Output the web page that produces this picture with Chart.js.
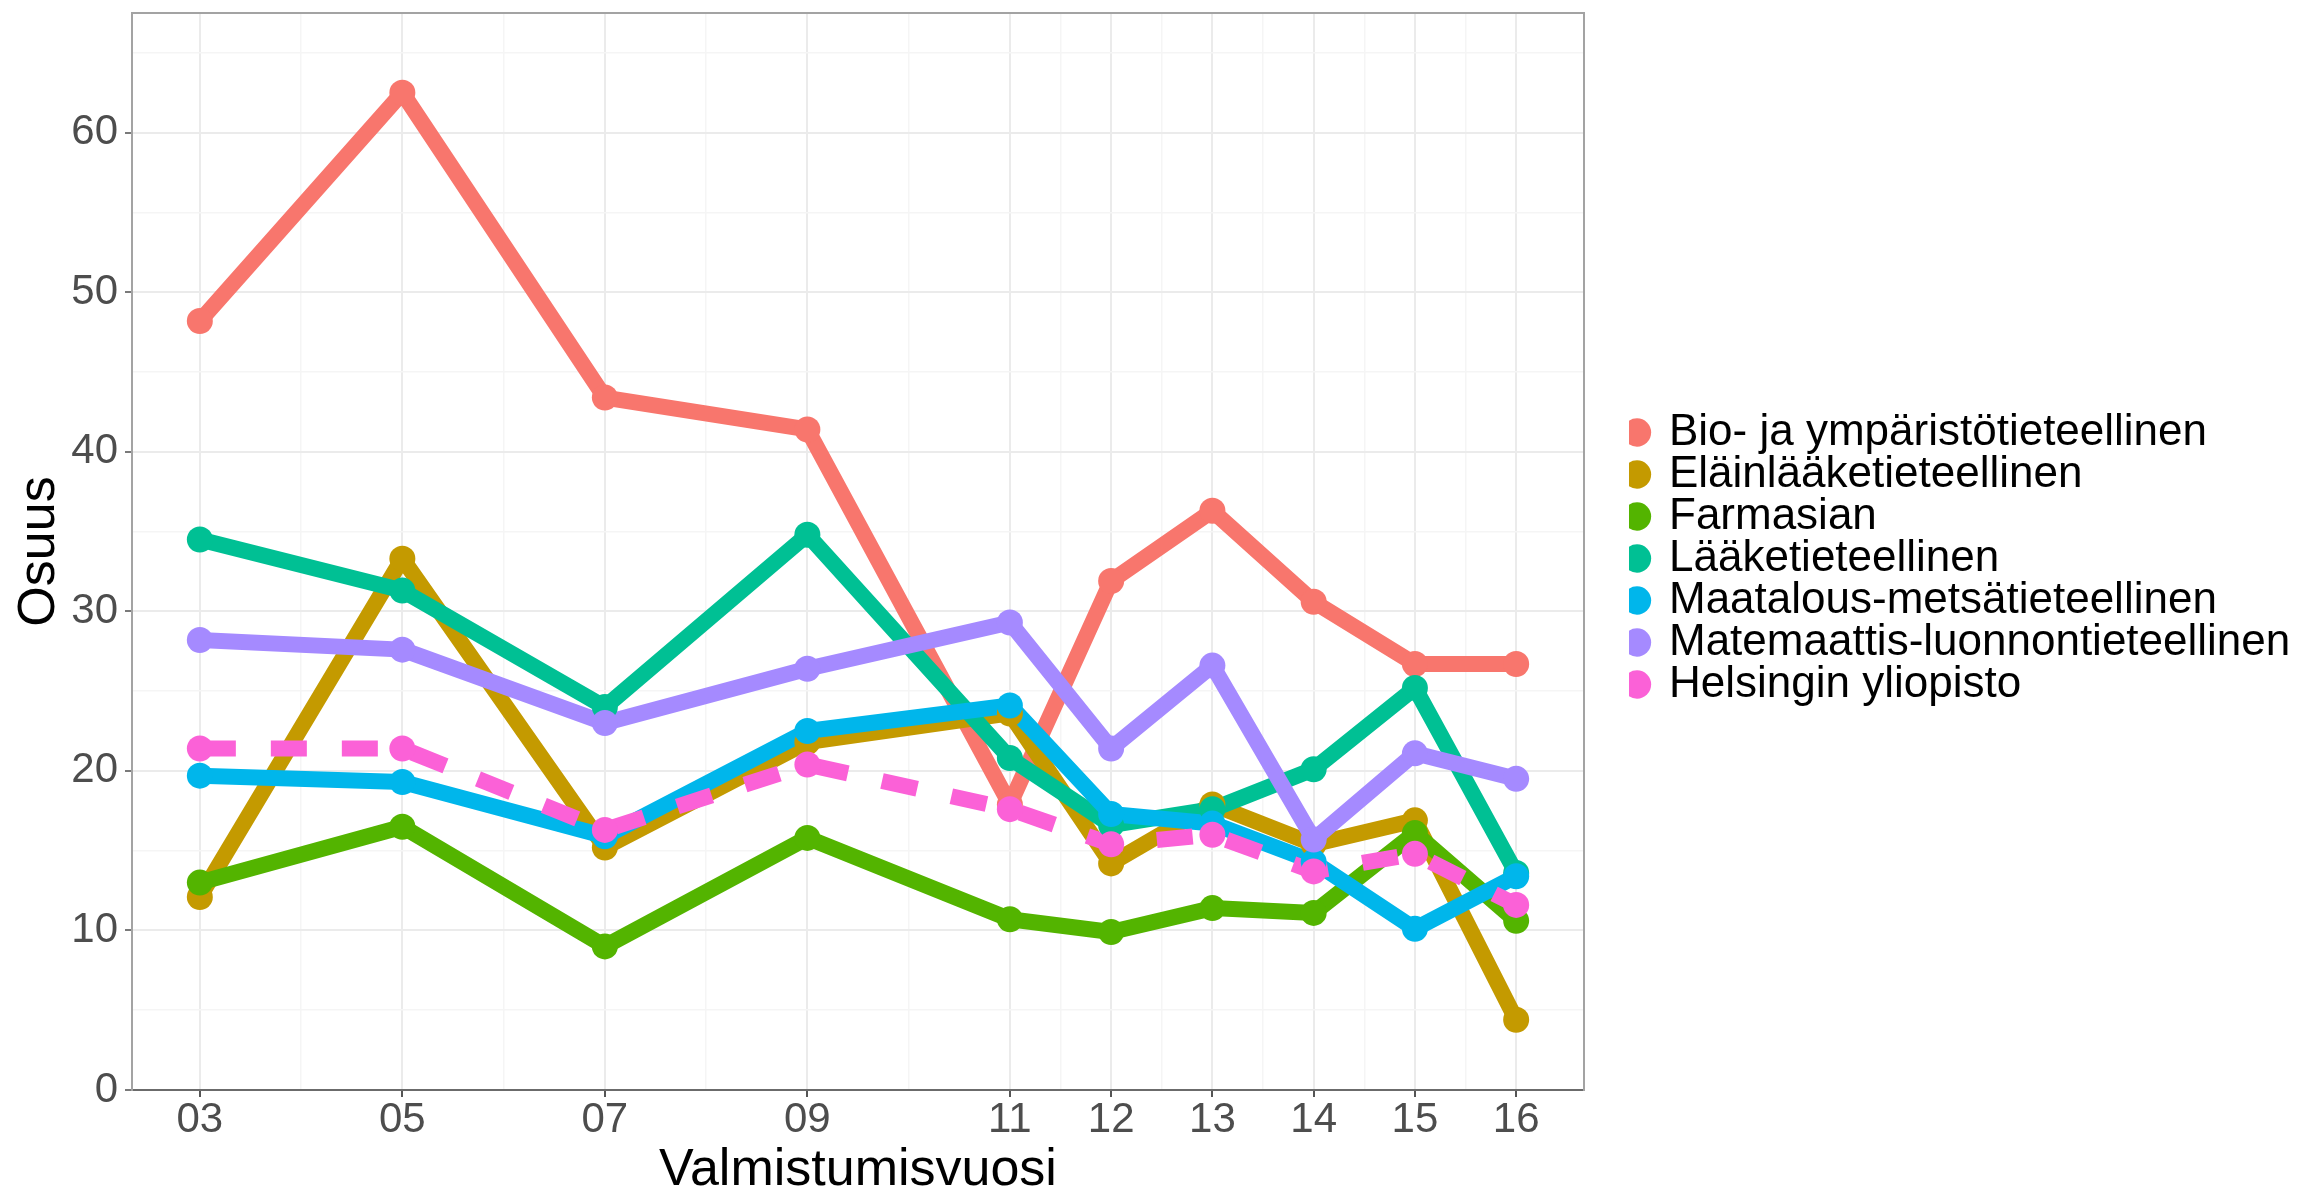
<!DOCTYPE html>
<html>
<head>
<meta charset="utf-8">
<script src="https://cdn.jsdelivr.net/npm/chart.js@4.4.1/dist/chart.umd.min.js"></script>
<style>
  html, body { margin: 0; padding: 0; background: #ffffff; }
  #wrap { width: 2306px; height: 1191px; }
</style>
</head>
<body>
<div id="wrap"><canvas id="c" width="2306" height="1191"></canvas></div>
<script>
// ---- data ----
const categories = ['03', '05', '07', '09', '11', '12', '13', '14', '15', '16'];
const years = [3, 5, 7, 9, 11, 12, 13, 14, 15, 16];
const xMinorTicks = [4, 6, 8, 10, 11.5, 12.5, 13.5, 14.5, 15.5];
const yMajorTicks = [0, 10, 20, 30, 40, 50, 60];
const yMinorTicks = [5, 15, 25, 35, 45, 55, 65];

const seriesNames = [
  'Bio- ja ympäristötieteellinen',
  'Eläinlääketieteellinen',
  'Farmasian',
  'Lääketieteellinen',
  'Maatalous-metsätieteellinen',
  'Matemaattis-luonnontieteellinen',
  'Helsingin yliopisto'
];
const bio       = [48.2, 62.5, 43.4, 41.4, 17.9, 31.9, 36.3, 30.6, 26.7, 26.7];
const elain     = [12.1, 33.3, 15.2, 21.8, 23.6, 14.2, 17.9, 15.4, 16.9, 4.4];
const farmasia  = [13.0, 16.5, 9.0, 15.8, 10.7, 9.9, 11.4, 11.1, 16.1, 10.6];
const laake     = [34.5, 31.3, 24.0, 34.8, 20.8, 16.6, 17.6, 20.1, 25.2, 13.6];
const maatalous = [19.7, 19.3, 15.9, 22.5, 24.1, 17.3, 16.7, 14.3, 10.1, 13.4];
const matem     = [28.2, 27.6, 23.0, 26.4, 29.3, 21.4, 26.6, 15.7, 21.1, 19.5];
const helsinki  = [21.4, 21.4, 16.3, 20.4, 17.6, 15.4, 16.0, 13.7, 14.8, 11.6];

const seriesValues = [bio, elain, farmasia, laake, maatalous, matem, helsinki];
const seriesColors = ['#F8766D', '#C49A00', '#53B400', '#00C094', '#00B6EB', '#A58AFF', '#FB61D7'];
const dashedSeries = [false, false, false, false, false, false, true];

// ---- styling ----
const FONT = "'Liberation Sans', Arial, Helvetica, sans-serif";
const GRID_MAJOR = '#EBEBEB';
const GRID_MINOR = '#F5F5F5';
const PANEL_BORDER = '#A3A3A3';
const isMajorX = v => years.indexOf(v) >= 0;
const isMajorY = v => yMajorTicks.indexOf(v) >= 0;

const datasets = [];
// lines first (drawn underneath)
seriesValues.forEach((vals, i) => {
  datasets.push({
    label: seriesNames[i],
    data: years.map((x, j) => ({ x: x, y: vals[j] })),
    borderColor: seriesColors[i],
    backgroundColor: seriesColors[i],
    borderWidth: 16,
    borderDash: dashedSeries[i] ? [36, 35] : [],
    borderCapStyle: 'butt',
    borderJoinStyle: 'round',
    pointRadius: 0,
    pointHoverRadius: 0,
    tension: 0,
    fill: false,
    order: 100 - i,
    inLegend: false
  });
});
// points on top of all lines
seriesValues.forEach((vals, i) => {
  datasets.push({
    label: seriesNames[i],
    data: years.map((x, j) => ({ x: x, y: vals[j] })),
    showLine: false,
    borderColor: seriesColors[i],
    backgroundColor: seriesColors[i],
    borderWidth: 0,
    pointRadius: 13,
    pointHoverRadius: 13,
    pointBorderWidth: 0,
    pointBackgroundColor: seriesColors[i],
    pointStyle: 'circle',
    order: 50 - i,
    inLegend: true
  });
});

new Chart(document.getElementById('c'), {
  type: 'line',
  data: { datasets: datasets },
  options: {
    responsive: false,
    animation: false,
    devicePixelRatio: 1,
    events: [],
    layout: { padding: { top: 12, right: 9, bottom: 0, left: 0 } },
    plugins: {
      tooltip: { enabled: false },
      legend: {
        position: 'right',
        align: 'center',
        fullSize: false,
        maxWidth: 668,
        title: { display: true, text: '', padding: { top: 13, bottom: 0 }, font: { size: 1, lineHeight: 1 } },
        labels: {
          usePointStyle: true,
          pointStyle: 'circle',
          boxWidth: 20,
          boxHeight: 20,
          padding: -2,
          color: '#000000',
          font: { size: 44, family: FONT },
          filter: (item, data) => data.datasets[item.datasetIndex].inLegend,
          sort: (a, b) => a.datasetIndex - b.datasetIndex
        }
      }
    },
    scales: {
      x: {
        type: 'linear',
        position: 'bottom',
        min: 2.33,
        max: 16.67,
        afterBuildTicks: s => {
          s.ticks = years.concat(xMinorTicks).sort((a, b) => a - b).map(v => ({ value: v }));
        },
        afterFit: s => { s.height = 101; s.paddingLeft = 0; s.paddingRight = 0; },
        ticks: {
          autoSkip: false,
          maxRotation: 0,
          minRotation: 0,
          padding: 0,
          color: '#4D4D4D',
          font: { size: 42, family: FONT, lineHeight: 1.1 },
          callback: v => { const k = years.indexOf(v); return k >= 0 ? categories[k] : ''; }
        },
        grid: {
          color: c => (c.tick && isMajorX(c.tick.value)) ? GRID_MAJOR : GRID_MINOR,
          lineWidth: c => (c.tick && isMajorX(c.tick.value)) ? 2 : 1.5,
          tickLength: 7,
          tickColor: c => (c.tick && isMajorX(c.tick.value)) ? '#555555' : 'rgba(0,0,0,0)',
          tickWidth: 2
        },
        border: { display: true, color: '#6B6B6B', width: 2 },
        title: {
          display: true,
          text: 'Valmistumisvuosi',
          color: '#000000',
          font: { size: 52, family: FONT, lineHeight: 0.8 },
          padding: { top: 0, bottom: 0 }
        }
      },
      y: {
        type: 'linear',
        position: 'left',
        min: 0,
        max: 67.5,
        afterBuildTicks: s => {
          s.ticks = yMajorTicks.concat(yMinorTicks).sort((a, b) => a - b).map(v => ({ value: v }));
        },
        afterFit: s => { s.width = 132; s.paddingTop = 0; s.paddingBottom = 0; },
        ticks: {
          padding: 7,
          color: '#4D4D4D',
          font: { size: 42, family: FONT },
          callback: v => isMajorY(v) ? String(v) : ''
        },
        grid: {
          color: c => (c.tick && isMajorY(c.tick.value)) ? GRID_MAJOR : GRID_MINOR,
          lineWidth: c => (c.tick && isMajorY(c.tick.value)) ? 2 : 1.5,
          tickLength: 7,
          tickColor: c => (c.tick && isMajorY(c.tick.value)) ? '#7A7A7A' : 'rgba(0,0,0,0)',
          tickWidth: 2
        },
        border: { display: true, color: PANEL_BORDER, width: 2 },
        title: {
          display: true,
          text: 'Osuus',
          color: '#000000',
          font: { size: 52, family: FONT },
          padding: { top: 8, bottom: 0 }
        }
      },
      xTop: {
        type: 'linear',
        position: 'top',
        min: 0,
        max: 1,
        ticks: { display: false },
        grid: { display: false, drawTicks: false },
        border: { display: true, color: PANEL_BORDER, width: 2 },
        afterFit: s => { s.height = 0; s.paddingLeft = 0; s.paddingRight = 0; }
      },
      yRight: {
        type: 'linear',
        position: 'right',
        min: 0,
        max: 1,
        ticks: { display: false },
        grid: { display: false, drawTicks: false },
        border: { display: true, color: PANEL_BORDER, width: 2 },
        afterFit: s => { s.width = 45; s.paddingTop = 0; s.paddingBottom = 0; }
      }
    }
  }
});
</script>
</body>
</html>
